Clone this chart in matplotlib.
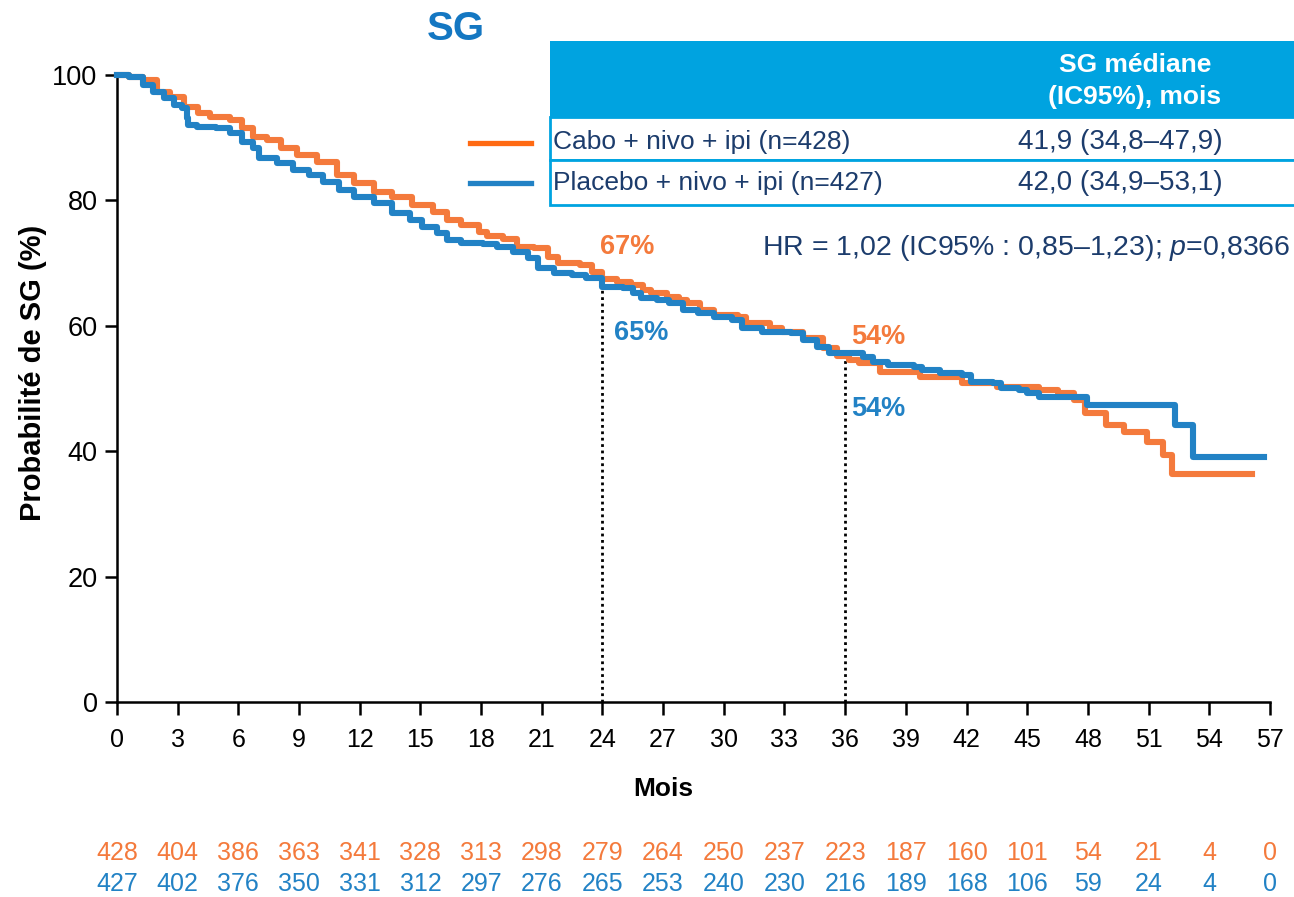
import matplotlib
matplotlib.use("Agg")
import matplotlib.pyplot as plt
from matplotlib.patches import Rectangle
from matplotlib.lines import Line2D
from matplotlib.transforms import blended_transform_factory

plt.rcParams['font.family'] = ['Liberation Sans', 'DejaVu Sans']
plt.rcParams['mathtext.fontset'] = 'custom'
plt.rcParams['mathtext.rm'] = 'Liberation Sans'
plt.rcParams['mathtext.it'] = 'Liberation Sans:italic'

# Kaplan-Meier steps (months, % alive)
cabo_t = [0, 0.6, 1.3, 2.0, 2.6, 3.3, 4.0, 4.6, 5.6, 6.2, 6.7, 7.4, 8.1, 8.9, 9.9,
          10.9, 11.7, 12.7, 13.6, 14.6, 15.6, 16.3, 17.0, 17.9, 18.3, 19.1, 19.8,
          20.6, 21.3, 21.8, 22.9, 23.5, 24.0, 24.7, 25.4, 26.0, 26.4, 27.2, 27.8,
          28.2, 28.8, 29.5, 30.7, 31.1, 32.3, 32.9, 33.9, 34.9, 35.6, 36.2, 36.7,
          37.7, 39.7, 41.8, 43.5, 45.6, 46.5, 47.3, 47.85, 48.9, 49.8, 50.9, 51.7,
          52.15, 56.1]
cabo_s = [100, 99.7, 99.2, 97.3, 96.5, 94.9, 93.9, 93.3, 92.8, 91.5, 90.1, 89.6, 88.4,
          87.2, 86.1, 84.1, 82.8, 81.3, 80.5, 79.3, 78.1, 76.9, 76.1, 75.0, 74.3,
          73.9, 72.6, 72.4, 71.0, 70.0, 69.7, 68.6, 67.4, 67.0, 66.5, 65.7, 65.2,
          64.6, 64.1, 63.6, 62.5, 61.7, 61.4, 60.4, 59.6, 59.0, 58.1, 56.5, 55.2,
          54.6, 54.1, 52.6, 51.8, 50.9, 50.3, 49.8, 49.3, 48.2, 46.1, 44.2, 43.1,
          41.5, 39.4, 36.4, 36.4]

plac_t = [0, 0.6, 1.3, 1.8, 2.3, 2.8, 3.2, 3.45, 3.5, 3.95, 4.9, 5.6, 6.2, 6.7, 7.0,
          7.9, 8.7, 9.5, 10.2, 11.0, 11.7, 12.7, 13.6, 14.5, 15.1, 15.8, 16.3, 17.0,
          18.1, 18.8, 19.6, 20.3, 20.8, 21.6, 22.5, 23.2, 24.0, 25.0, 25.5, 25.9,
          26.7, 27.3, 28.0, 28.7, 29.5, 30.4, 30.9, 31.9, 33.3, 33.9, 34.6, 35.2,
          36.9, 37.4, 38.1, 39.4, 39.8, 40.7, 41.8, 42.2, 43.3, 43.7, 44.6, 45.0,
          45.6, 47.95, 52.3, 53.2, 56.7]
plac_s = [100, 99.7, 98.4, 97.3, 96.3, 95.2, 94.7, 93.1, 92.0, 91.7, 91.5, 90.7, 89.3,
          88.4, 86.8, 86.0, 84.8, 84.0, 82.9, 81.7, 80.5, 79.6, 78.0, 76.9, 75.8,
          74.8, 73.7, 73.2, 73.0, 72.6, 71.8, 70.8, 69.2, 68.4, 68.1, 67.6, 66.2,
          66.0, 65.2, 64.4, 64.1, 63.6, 62.5, 62.0, 61.4, 60.9, 59.6, 59.0, 58.9,
          57.7, 56.6, 55.7, 55.0, 54.2, 53.7, 53.4, 53.0, 52.5, 52.2, 51.0, 50.9,
          50.1, 49.8, 49.3, 48.6, 47.4, 44.2, 39.1, 39.1]

# patients at risk
risk_months = [0, 3, 6, 9, 12, 15, 18, 21, 24, 27, 30, 33, 36, 39, 42, 45, 48, 51, 54, 57]
risk_cabo = [428, 404, 386, 363, 341, 328, 313, 298, 279, 264, 250, 237, 223, 187, 160, 101, 54, 21, 4, 0]
risk_plac = [427, 402, 376, 350, 331, 312, 297, 276, 265, 253, 240, 230, 216, 189, 168, 106, 59, 24, 4, 0]

orange = '#f47a3c'
blue = '#2282c5'
navy = '#1c3c6c'
cyan = '#00a3e0'

fig = plt.figure(figsize=(12.94, 8.97), dpi=100)
ax = fig.add_axes([0.0904, 0.2174, 0.8910, 0.6990])

ax.step(cabo_t, cabo_s, where='post', color=orange, lw=4.4, clip_on=False, zorder=3)
ax.step(plac_t, plac_s, where='post', color=blue, lw=4.4, clip_on=False, zorder=4)

# landmark lines at 24 and 36 months
ax.plot([24, 24], [0, 66.5], ls=(0, (1, 1.3)), color='black', lw=2, zorder=2)
ax.plot([36, 36], [0, 55.3], ls=(0, (1, 1.3)), color='black', lw=2, zorder=2)
ax.text(23.9, 72.6, '67%', color=orange, fontsize=19.5, fontweight='bold', va='center')
ax.text(24.55, 58.9, '65%', color=blue, fontsize=19.5, fontweight='bold', va='center')
ax.text(36.3, 58.2, '54%', color=orange, fontsize=19.5, fontweight='bold', va='center')
ax.text(36.3, 46.7, '54%', color=blue, fontsize=19.5, fontweight='bold', va='center')

ax.set_xlim(0, 57)
ax.set_ylim(0, 100)
ax.set_xticks(risk_months)
ax.set_yticks([0, 20, 40, 60, 80, 100])
ax.tick_params(axis='both', width=1.8, length=9, direction='out')
ax.tick_params(axis='x', labelsize=18, pad=10)
ax.tick_params(axis='y', labelsize=19.5, pad=5)
for side in ['top', 'right']:
    ax.spines[side].set_visible(False)
for side in ['left', 'bottom']:
    ax.spines[side].set_linewidth(1.8)
ax.set_xlabel('Mois', fontsize=19, fontweight='bold')
ax.xaxis.set_label_coords(0.4735, -0.12)
ax.set_ylabel('Probabilité de SG (%)', fontsize=21, fontweight='bold')
ax.yaxis.set_label_coords(-0.061, 0.525)

# numbers at risk under the axis
tr = blended_transform_factory(ax.transData, fig.transFigure)
for m, a, b in zip(risk_months, risk_cabo, risk_plac):
    ax.text(m, 0.049, str(a), color=orange, fontsize=18, ha='center', va='center', transform=tr)
    ax.text(m, 0.015, str(b), color=blue, fontsize=18, ha='center', va='center', transform=tr)

fig.text(0.352, 0.968, 'SG', color='#1477c2', fontsize=29, fontweight='bold', ha='center', va='center')

# median OS table
fig.patches.append(Rectangle((0.425, 0.8696), 0.58, 0.0847, transform=fig.transFigure,
                             facecolor=cyan, edgecolor='none'))
for y0, h in [(0.8217, 0.0479), (0.7715, 0.0502)]:
    fig.patches.append(Rectangle((0.425, y0), 0.58, h, transform=fig.transFigure,
                                 facecolor='white', edgecolor=cyan, lw=2))
fig.text(0.877, 0.928, 'SG médiane', color='white', fontsize=19, fontweight='bold', ha='center', va='center')
fig.text(0.877, 0.892, '(IC95%), mois', color='white', fontsize=19, fontweight='bold', ha='center', va='center')
fig.text(0.427, 0.8417, 'Cabo + nivo + ipi (n=428)', color=navy, fontsize=19, va='center')
fig.text(0.427, 0.7960, 'Placebo + nivo + ipi (n=427)', color=navy, fontsize=19, va='center')
fig.text(0.866, 0.8417, '41,9 (34,8–47,9)', color=navy, fontsize=20, ha='center', va='center')
fig.text(0.866, 0.7960, '42,0 (34,9–53,1)', color=navy, fontsize=20, ha='center', va='center')
fig.lines.append(Line2D([0.363, 0.410], [0.8406, 0.8406], transform=fig.transFigure, color='#ff6a13', lw=3.8))
fig.lines.append(Line2D([0.363, 0.410], [0.7960, 0.7960], transform=fig.transFigure, color=blue, lw=3.8))

fig.text(0.997, 0.7235, r'HR = 1,02 (IC95% : 0,85–1,23); $\mathit{p}$=0,8366', color=navy,
         fontsize=20.5, ha='right', va='center')

fig.savefig('out.png', dpi=100)
